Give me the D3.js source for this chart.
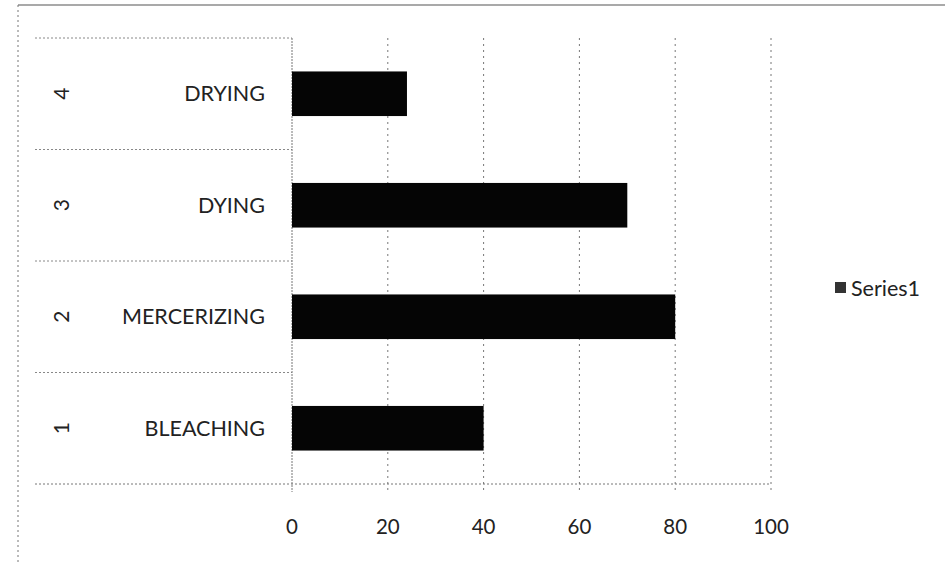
<!DOCTYPE html>
<html><head><meta charset="utf-8">
<script src="https://cdn.jsdelivr.net/npm/d3@7"></script>
<style>body{margin:0;background:#fff}svg{display:block}text{font-family:Lato,"Open Sans",sans-serif;fill:#222}</style>
</head><body><svg id="c" width="945" height="562"></svg>
<script>
const categories = ["BLEACHING","MERCERIZING","DYING","DRYING"];
const groupLabels = ["1","2","3","4"];
const values = [40,80,70,24];
const ticks = [0,20,40,60,80,100];
const seriesName = "Series1";

(function(){
const svg = d3.select("#c");
const pLeft = 292, pRight = 771, pTop = 38, pBottom = 484, labelLeft = 35;

// chart outer border
svg.append("line").attr("x1",18).attr("x2",945).attr("y1",5).attr("y2",5).attr("stroke","#555").attr("stroke-width",1.2);
svg.append("line").attr("x1",18).attr("x2",18).attr("y1",5).attr("y2",562).attr("stroke","#777").attr("stroke-dasharray","2,3");

const x = d3.scaleLinear().domain([0,100]).range([pLeft,pRight]);
const y = d3.scaleBand().domain(categories.slice().reverse()).range([pTop,pBottom]).padding(0);

// vertical gridlines
svg.append("g").selectAll("line").data(ticks.slice(1)).join("line")
  .attr("x1",d=>x(d)).attr("x2",d=>x(d)).attr("y1",pTop).attr("y2",pBottom+8)
  .attr("stroke","#777").attr("stroke-dasharray","2,4");

// category separators
svg.append("g").selectAll("line").data(categories).join("line")
  .attr("x1",labelLeft).attr("x2",pLeft).attr("y1",c=>y(c)).attr("y2",c=>y(c))
  .attr("stroke","#888").attr("stroke-dasharray","2,2");
svg.append("line").attr("x1",labelLeft).attr("x2",pRight).attr("y1",pBottom).attr("y2",pBottom)
  .attr("stroke","#777").attr("stroke-dasharray","2,2");
svg.append("line").attr("x1",pLeft).attr("x2",pLeft).attr("y1",pTop).attr("y2",pBottom+8)
  .attr("stroke","#777").attr("stroke-dasharray","2,1");

// bars
const bw = y.bandwidth();
svg.append("g").selectAll("rect").data(categories).join("rect")
  .attr("x",x(0)).attr("y",c=>y(c)+bw*0.3).attr("height",bw*0.4)
  .attr("width",(c,i)=>x(values[i])-x(0)).attr("fill","#050505");

// category labels
svg.append("g").selectAll("text").data(categories).join("text")
  .attr("x",265).attr("y",c=>y(c)+bw/2).attr("dy","0.35em").attr("text-anchor","end")
  .attr("font-size",21.5).text(c=>c);
svg.append("g").selectAll("text").data(categories).join("text")
  .attr("transform",c=>`translate(62,${y(c)+bw/2}) rotate(-90)`).attr("dy","0.35em")
  .attr("text-anchor","middle").attr("font-size",21).text((c,i)=>groupLabels[i]);

// x tick labels
svg.append("g").selectAll("text").data(ticks).join("text")
  .attr("x",d=>x(d)).attr("y",527).attr("dy","0.35em").attr("text-anchor","middle")
  .attr("font-size",20.5).text(d=>d);

// legend
svg.append("rect").attr("x",835).attr("y",282).attr("width",11).attr("height",11).attr("fill","#333");
svg.append("text").attr("x",851).attr("y",288).attr("dy","0.35em").attr("font-size",21.5).text(seriesName);
})();
</script></body></html>
